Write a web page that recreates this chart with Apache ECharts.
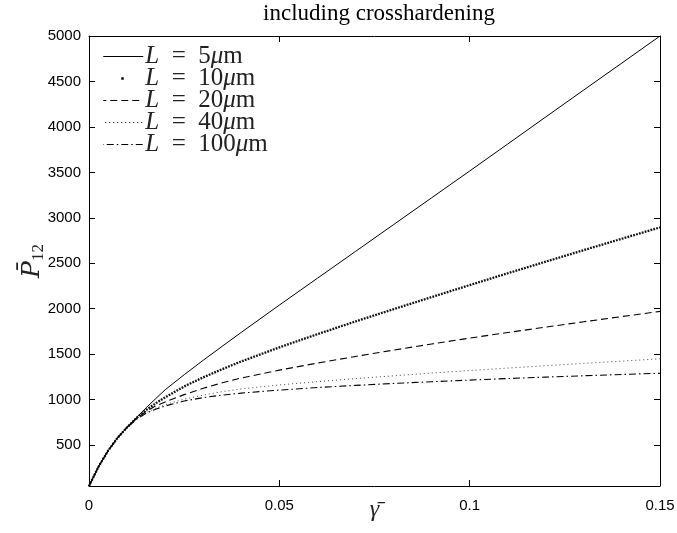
<!DOCTYPE html>
<html>
<head>
<meta charset="utf-8">
<script src="https://cdn.jsdelivr.net/npm/echarts@6/dist/echarts.min.js"></script>
<style>html,body{margin:0;padding:0;background:#fff}#c{width:677px;height:533px}</style>
</head>
<body>
<div id="c"></div>
<script>
const gamma = [0, 0.0025, 0.005, 0.0075, 0.01, 0.0125, 0.015, 0.0175, 0.02, 0.025, 0.03, 0.035, 0.04, 0.05, 0.06, 0.07, 0.08, 0.09, 0.1, 0.11, 0.12, 0.13, 0.14, 0.15];
const L5   = [50, 262, 437, 580, 697, 805, 910, 1010, 1108, 1274, 1433, 1587, 1740, 2040, 2335, 2630, 2925, 3220, 3515, 3812, 4110, 4407, 4703, 5000];
const L10  = [50, 262, 437, 580, 695, 800, 885, 960, 1025, 1145, 1245, 1335, 1420, 1575, 1720, 1860, 1995, 2128, 2260, 2390, 2518, 2645, 2770, 2895];
const L20  = [50, 262, 437, 580, 694, 795, 870, 930, 975, 1055, 1125, 1185, 1238, 1325, 1402, 1475, 1545, 1612, 1677, 1738, 1798, 1857, 1914, 1971];
const L40  = [50, 262, 437, 580, 693, 790, 855, 905, 945, 1005, 1050, 1088, 1118, 1162, 1198, 1231, 1262, 1292, 1320, 1347, 1373, 1399, 1424, 1449];
const L100 = [50, 262, 437, 580, 692, 785, 850, 895, 930, 985, 1022, 1050, 1072, 1105, 1133, 1157, 1178, 1197, 1215, 1232, 1248, 1263, 1277, 1290];
const seriesNames = ['L = 5μm', 'L = 10μm', 'L = 20μm', 'L = 40μm', 'L = 100μm'];
const yTicks = [500, 1000, 1500, 2000, 2500, 3000, 3500, 4000, 4500, 5000];
const xTicks = [0, 0.05, 0.1, 0.15];

const allData = [L5, L10, L20, L40, L100];
const styles = [
  {type: 'solid', width: 1, color: '#000'},
  {type: [1.8, 1.2], width: 2.3, color: '#111'},
  {type: [7, 4], width: 1.1, color: '#000'},
  {type: [1, 3], width: 1, color: '#444'},
  {type: [7, 3, 1.5, 3], width: 1.1, color: '#000'}
];
const legendLine = [
  {type: 'solid', width: 1},
  {type: [2.5, 100], dashOffset: -18, width: 2.5},
  {type: [7, 4], width: 1},
  {type: [1, 3], width: 1},
  {type: [7, 3, 1.5, 3], width: 1}
];

const chart = echarts.init(document.getElementById('c'), null, {renderer: 'canvas'});
const serif = 'Liberation Serif';
const sans = 'Liberation Sans';

const series = allData.map((d, i) => ({
  name: seriesNames[i],
  type: 'line',
  data: gamma.map((g, k) => [g, d[k]]),
  showSymbol: false,
  symbol: 'none',
  smooth: false,
  lineStyle: styles[i],
  itemStyle: {color: styles[i].color},
  z: 5 - i
}));

chart.setOption({
  animation: false,
  backgroundColor: '#fff',
  title: {
    text: 'including crosshardening',
    left: 374, textAlign: 'center', top: -3,
    textStyle: {fontFamily: serif, fontSize: 23, fontWeight: 'normal', color: '#000'}
  },
  legend: {
    orient: 'vertical',
    left: 97, top: 39,
    itemWidth: 40, itemHeight: 14, itemGap: -3,
    data: seriesNames.map((n, i) => ({
      name: n,
      itemStyle: {opacity: 0},
      lineStyle: Object.assign({color: '#000'}, legendLine[i])
    })),
    formatter: function (name) {
      const n = name.match(/\d+/)[0];
      return '{i|L}\u2002=\u2002' + n + '{i|μ}m';
    },
    textStyle: {
      fontFamily: serif, fontSize: 25, color: '#222', lineHeight: 22, padding: [0, 0, 0, -3],
      rich: {i: {fontFamily: serif, fontSize: 25, fontStyle: 'italic', color: '#222', lineHeight: 22}}
    }
  },
  grid: {left: 89, right: 17, top: 36, bottom: 47, containLabel: false, outerBoundsMode: 'none'},
  xAxis: [{
    type: 'value', min: 0, max: 0.15, interval: 0.05,
    axisLine: {show: true, onZero: false, lineStyle: {color: '#000', width: 1}},
    axisTick: {show: true, inside: true, length: 6, lineStyle: {color: '#000'}},
    axisLabel: {color: '#000', fontFamily: sans, fontSize: 15, margin: 12,
      formatter: v => String(+v.toFixed(2))},
    splitLine: {show: false},
    name: 'γ̄', nameLocation: 'middle', nameGap: 12, nameMoveOverlap: false,
    nameTextStyle: {fontFamily: serif, fontStyle: 'italic', fontSize: 24, color: '#222', verticalAlign: 'top'}
  }, {
    type: 'value', min: 0, max: 0.15, interval: 0.05, position: 'top',
    axisLine: {show: true, onZero: false, lineStyle: {color: '#000', width: 1}},
    axisTick: {show: true, inside: true, length: 6, lineStyle: {color: '#000'}},
    axisLabel: {show: false}, splitLine: {show: false}
  }],
  yAxis: [{
    type: 'value', min: 50, max: 5000,
    axisLine: {show: true, onZero: false, lineStyle: {color: '#000', width: 1}},
    axisTick: {show: true, inside: true, length: 6, customValues: yTicks, lineStyle: {color: '#000'}},
    axisLabel: {color: '#000', fontFamily: sans, fontSize: 15, margin: 8, customValues: yTicks,
      formatter: v => String(v)},
    splitLine: {show: false},
    name: '{i|P̄}{s|12}', nameLocation: 'middle', nameGap: 42, nameRotate: 90, nameMoveOverlap: false,
    nameTextStyle: {
      fontFamily: 'DejaVu Serif', fontSize: 25, color: '#222',
      rich: {
        i: {fontFamily: 'DejaVu Serif', fontStyle: 'italic', fontSize: 25, color: '#222'},
        s: {fontFamily: serif, fontSize: 17, color: '#222', padding: [12, 0, 0, 0]}
      }
    }
  }, {
    type: 'value', min: 50, max: 5000, position: 'right',
    axisLine: {show: true, onZero: false, lineStyle: {color: '#000', width: 1}},
    axisTick: {show: true, inside: true, length: 6, customValues: yTicks, lineStyle: {color: '#000'}},
    axisLabel: {show: false}, splitLine: {show: false}
  }],
  series: series
});
</script>
</body>
</html>
